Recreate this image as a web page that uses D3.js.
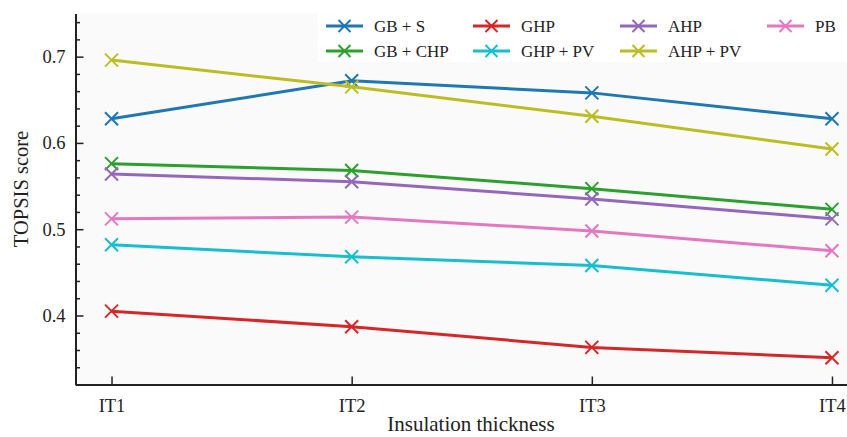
<!DOCTYPE html>
<html>
<head>
<meta charset="utf-8">
<script src="https://cdnjs.cloudflare.com/ajax/libs/d3/7.8.5/d3.min.js"></script>
<style>
  body { margin: 0; background: #fff; }
  svg { display: block; }
  text { font-family: "Liberation Serif", "Times New Roman", serif; fill: #222; }
</style>
</head>
<body>
<div id="chart-area"></div>
<script>
// data
const categories = ["IT1", "IT2", "IT3", "IT4"];
const gbS   = [0.628, 0.672, 0.658, 0.628];
const gbChp = [0.576, 0.568, 0.547, 0.523];
const ghp   = [0.405, 0.387, 0.363, 0.351];
const ghpPv = [0.482, 0.468, 0.458, 0.435];
const ahp   = [0.564, 0.555, 0.535, 0.512];
const ahpPv = [0.696, 0.665, 0.631, 0.593];
const pb    = [0.512, 0.514, 0.498, 0.475];

const seriesNames = ["GB + S", "GB + CHP", "GHP", "GHP + PV", "AHP", "AHP + PV", "PB"];
const seriesValues = [gbS, gbChp, ghp, ghpPv, ahp, ahpPv, pb];
const colors = ["#1f77b4", "#2ca02c", "#d62728", "#17becf", "#9467bd", "#bcbd22", "#e377c2"];
const yTicks = [0.4, 0.5, 0.6, 0.7];

const W = 847, H = 437;
const margin = { top: 13.5, left: 75.5, bottom: 52.5 };
const plotRight = 868; // the original figure is cut off on the right
const height = H - margin.top - margin.bottom;

const svg = d3.select("#chart-area")
  .append("svg")
    .attr("width", W)
    .attr("height", H);

const xScale = d3.scalePoint()
  .domain(categories)
  .range([margin.left, plotRight])
  .padding(0.15);

const yScale = d3.scaleLinear()
  .domain([0.32, 0.75])
  .range([H - margin.bottom, margin.top]);

svg.append("rect")
    .attr("x", margin.left)
    .attr("y", margin.top)
    .attr("width", W - margin.left)
    .attr("height", height)
    .attr("fill", "#fafafa");

// minor y ticks
const minor = d3.range(0.32, 0.7501, 0.02).filter(v => !yTicks.some(t => Math.abs(t - v) < 1e-6));
svg.append("g")
    .attr("transform", `translate(${margin.left},0)`)
    .call(d3.axisLeft(yScale).tickValues(minor).tickSize(-4.5).tickFormat(""))
    .call(g => g.select(".domain").remove())
    .selectAll("line").attr("stroke", "#222").attr("stroke-width", 1.3);

const yAxisGroup = svg.append("g")
    .attr("transform", `translate(${margin.left},0)`)
    .call(d3.axisLeft(yScale).tickValues(yTicks).tickSize(-8).tickSizeOuter(0)
      .tickPadding(10).tickFormat(d3.format(".1f")));
yAxisGroup.selectAll("text").style("font-size", "18.5px");

const xAxisGroup = svg.append("g")
    .attr("transform", `translate(0,${H - margin.bottom})`)
    .call(d3.axisBottom(xScale).tickSize(-8).tickSizeOuter(0).tickPadding(14));
xAxisGroup.selectAll("text").style("font-size", "18.5px");

svg.selectAll(".domain").attr("stroke", "#222").attr("stroke-width", 2);
svg.selectAll(".tick line").attr("stroke", "#222").attr("stroke-width", 1.5);

svg.append("text")
    .attr("x", 471)
    .attr("y", 431)
    .attr("text-anchor", "middle")
    .style("font-size", "21px")
    .text("Insulation thickness");

svg.append("text")
    .attr("transform", "rotate(-90)")
    .attr("x", -189)
    .attr("y", 28)
    .attr("text-anchor", "middle")
    .style("font-size", "20.5px")
    .text("TOPSIS score");

function cross(sel, s) {
  sel.append("path")
    .attr("d", `M${-s},${-s}L${s},${s}M${-s},${s}L${s},${-s}`)
    .attr("fill", "none")
    .attr("stroke-width", 2);
}

const line = d3.line()
  .x((d, i) => xScale(categories[i]))
  .y(d => yScale(d));

seriesValues.forEach((vals, k) => {
  svg.append("path")
      .attr("d", line(vals))
      .attr("fill", "none")
      .attr("stroke", colors[k])
      .attr("stroke-width", 3)
      .attr("stroke-linejoin", "round");

  svg.selectAll(`.m${k}`)
    .data(vals)
    .enter()
    .append("g")
      .attr("class", `m${k}`)
      .attr("transform", (d, i) => `translate(${xScale(categories[i])},${yScale(d)})`)
      .attr("stroke", colors[k])
      .call(cross, 6.5);
});

// legend, 4 columns x 2 rows, column-major
const legend = svg.append("g");
legend.append("rect")
    .attr("x", 318)
    .attr("y", 8)
    .attr("width", W - 318)
    .attr("height", 54)
    .attr("fill", "#fff");

seriesNames.forEach((name, k) => {
  const col = Math.floor(k / 2), row = k % 2;
  const g = legend.append("g")
      .attr("transform", `translate(${326 + col * 147},${26 + row * 25})`);
  g.append("line")
      .attr("x1", 0).attr("x2", 37)
      .attr("stroke", colors[k])
      .attr("stroke-width", 3);
  g.append("g")
      .attr("transform", "translate(18.5,0)")
      .attr("stroke", colors[k])
      .call(cross, 6);
  g.append("text")
      .attr("x", 48)
      .attr("dy", "0.35em")
      .style("font-size", "17px")
      .text(name);
});
</script>
</body>
</html>
